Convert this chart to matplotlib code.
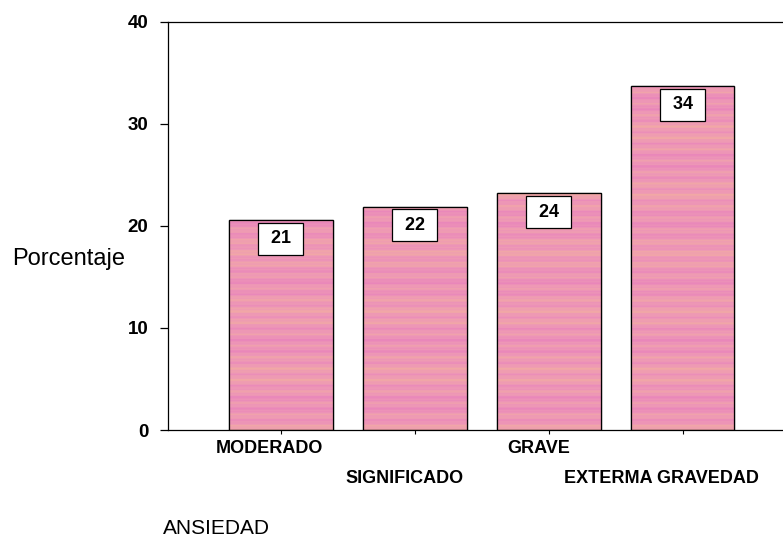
import matplotlib
matplotlib.use("Agg")
import matplotlib.pyplot as plt
import matplotlib.transforms as mtransforms
import numpy as np

plt.rcParams["font.family"] = ["Liberation Sans", "DejaVu Sans"]

categories = ["MODERADO", "SIGNIFICADO", "GRAVE", "EXTERMA GRAVEDAD"]
percentages = [20.6, 21.9, 23.2, 33.7]
bar_labels = ["21", "22", "24", "34"]
y_ticks = [0, 10, 20, 30, 40]

fig = plt.figure(figsize=(7.83, 5.40), dpi=100)
ax = fig.add_axes([0.2146, 0.2037, 0.7854, 0.7556])

x = np.arange(len(categories))
bars = ax.bar(x, percentages, width=0.776, color="#ec98b6",
              edgecolor="black", linewidth=0.9, zorder=2)

# striped pinkish texture, clipped to each bar
rows = np.arange(600)
s = (0.45 * np.sin(rows * 0.37) + 0.3 * np.sin(rows * 1.13 + 1.0)
     + 0.25 * np.sin(rows * 0.071 + 2.0) + 0.2 * np.sin(rows * 2.31 + 0.4))
s = s / np.abs(s).max()
pink = np.array([238, 152, 182]) / 255
orange = np.array([242, 172, 162]) / 255
magenta = np.array([232, 130, 188]) / 255
tex = np.where(s[:, None] > 0,
               pink + (orange - pink) * s[:, None],
               pink + (magenta - pink) * (-s[:, None]))
tex = np.clip(tex, 0, 1)[:, None, :]
for b in bars:
    im = ax.imshow(tex, aspect="auto", extent=(b.get_x(), b.get_x() + b.get_width(), 0, 40),
                   origin="lower", zorder=2.5, interpolation="bilinear")
    im.set_clip_path(b)
    ax.add_patch(plt.Rectangle((b.get_x(), 0), b.get_width(), b.get_height(),
                               fill=False, edgecolor="black", linewidth=0.9, zorder=3))

for xi, h, lbl in zip(x, percentages, bar_labels):
    ax.annotate(" " + lbl + " ", (xi, h), xytext=(0, -13.5), textcoords="offset points",
                ha="center", va="center", fontsize=13, fontweight="bold", zorder=4,
                bbox=dict(boxstyle="square,pad=0.42", fc="white", ec="black", lw=0.9))

ax.set_xlim(-0.84, 3.75)
ax.set_ylim(0, 40)
ax.set_yticks(y_ticks)
ax.set_yticklabels([str(t) for t in y_ticks], fontsize=13.5, fontweight="bold")
ax.tick_params(axis="y", length=6, width=0.9, pad=8)
ax.set_xticks(x)
ax.set_xticklabels(categories, fontsize=13, fontweight="bold")
ax.tick_params(axis="x", length=3, width=0.8, pad=4)
shifts = [-8, -7, -7, -15]
for i, t in enumerate(ax.get_xticklabels()):
    if i % 2 == 1:
        t.set_y(-0.075)
    t.set_transform(t.get_transform() +
                    mtransforms.ScaledTranslation(shifts[i] / 72, 0, fig.dpi_scale_trans))

ax.spines["right"].set_visible(False)
for sp in ["left", "top", "bottom"]:
    ax.spines[sp].set_linewidth(0.9)

fig.text(12 / 783, 1 - 259 / 540, "Porcentaje", fontsize=17, ha="left", va="center")
fig.text(163 / 783, 1 - 529 / 540, "ANSIEDAD", fontsize=15, ha="left", va="center")

fig.savefig("out.png", dpi=100)
